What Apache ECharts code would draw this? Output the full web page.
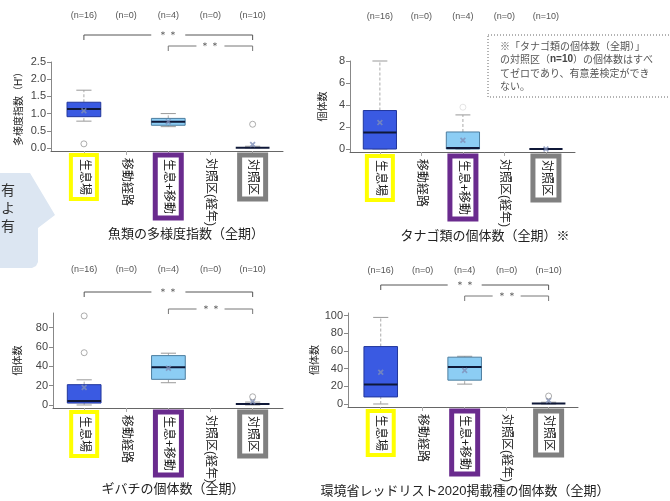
<!DOCTYPE html>
<html>
<head>
<meta charset="utf-8">
<script src="https://cdn.jsdelivr.net/npm/echarts@6/dist/echarts.min.js"></script>
<style>
  html, body { margin: 0; padding: 0; background: #fff; }
  #main { width: 670px; height: 501px; }
</style>
</head>
<body>
<div id="main"></div>
<script>
// categories shared by all four boxplots
const categories = ['生息場', '移動経路', '生息+移動', '対照区(経年)', '対照区'];
const nLabels = ['(n=16)', '(n=0)', '(n=4)', '(n=0)', '(n=10)'];
const catTicks = [1, 2, 3, 4, 5];
const titles = ['魚類の多様度指数（全期）', 'タナゴ類の個体数（全期）※', 'ギバチの個体数（全期）', '環境省レッドリスト2020掲載種の個体数（全期）'];
const yNames = ['多様度指数（H\'）', '個体数', '個体数', '個体数'];

// [category, lower whisker, q1, median, q3, upper whisker]
const diversityBoxes = [[1, 0.78, 0.91, 1.13, 1.33, 1.68], [3, 0.62, 0.66, 0.76, 0.86, 1.0], [5, 0, 0, 0.01, 0.03, 0.05]];
const diversityMeans = [[1, 1.08], [3, 0.76], [5, 0.1]];
const diversityOutliers = [[1, 0.12], [5, 0.69]];
const diversityTicks = [0, 0.5, 1, 1.5, 2, 2.5];

const tanagoBoxes = [[1, 0, 0, 1.5, 3.5, 8], [3, 0, 0, 0.1, 1.55, 3.1], [5, 0, 0, 0, 0, 0]];
const tanagoMeans = [[1, 2.4], [3, 0.8], [5, 0]];
const tanagoOutliers = [[3, 3.8]];
const tanagoTicks = [0, 2, 4, 6, 8];

const gibachiBoxes = [[1, 0, 2, 4, 21, 26], [3, 23, 26.5, 39, 51, 53.5], [5, 0, 0, 1, 1.5, 3]];
const gibachiMeans = [[1, 18], [3, 38], [5, 3.5]];
const gibachiOutliers = [[1, 54], [1, 92], [5, 8.5]];
const gibachiTicks = [0, 20, 40, 60, 80];

const redlistBoxes = [[1, 0, 8, 22, 65, 98], [3, 22.5, 27, 42, 53, 54], [5, 0, 0, 0.5, 1, 2]];
const redlistMeans = [[1, 36], [3, 38], [5, 4]];
const redlistOutliers = [[5, 9]];
const redlistTicks = [0, 20, 40, 60, 80, 100];

// ** brackets: [from category, to category, level]
const sigPairs = [[1, 5, 0], [3, 5, 1]];

const labelFrames = ['yel', 'plain', 'pur', 'plain', 'gry'];
const boxColors = {
  1: { fill: '#3a5ae2', stroke: '#22379c' },
  3: { fill: '#8ccdf4', stroke: '#4d7e9f' },
  5: { fill: 'none', stroke: 'none' }
};
const BOX_W = 0.8;

const panels = [
  { grid: { left: 51, top: 62, width: 232, height: 89 }, x: [0.22, 5.72], y: [-0.088, 2.5], ticks: diversityTicks, digits: 1,
    boxes: diversityBoxes, means: diversityMeans, outliers: diversityOutliers, sig: sigPairs, sigOffsets: [27, 16],
    nMargin: 42, nameGap: 27, titleX: 186, titleY: 228, outlierColor: '#999' },
  { grid: { left: 350, top: 61, width: 225, height: 91 }, x: [0.28, 5.7], y: [-0.27, 8], ticks: tanagoTicks, digits: 0,
    boxes: tanagoBoxes, means: tanagoMeans, outliers: tanagoOutliers, sig: [], sigOffsets: [],
    nMargin: 40, nameGap: 22, titleX: 485, titleY: 230, outlierColor: '#ddd' },
  { grid: { left: 53, top: 313, width: 230, height: 95 }, x: [0.26, 5.72], y: [-3.1, 95], ticks: gibachiTicks, digits: 0,
    boxes: gibachiBoxes, means: gibachiMeans, outliers: gibachiOutliers, sig: sigPairs, sigOffsets: [21, 4],
    nMargin: 39, nameGap: 30, titleX: 173, titleY: 483, outlierColor: '#999' },
  { grid: { left: 348, top: 313, width: 230, height: 94 }, x: [0.22, 5.7], y: [-3.4, 103], ticks: redlistTicks, digits: 0,
    boxes: redlistBoxes, means: redlistMeans, outliers: redlistOutliers, sig: sigPairs, sigOffsets: [28, 17],
    nMargin: 38, nameGap: 25, titleX: 465, titleY: 485, outlierColor: '#999' }
];

function renderBox(params, api) {
  const x = api.value(0);
  const pLo = api.coord([x, api.value(1)]);
  const pQ1 = api.coord([x, api.value(2)]);
  const pMed = api.coord([x, api.value(3)]);
  const pQ3 = api.coord([x, api.value(4)]);
  const pHi = api.coord([x, api.value(5)]);
  const half = api.size([BOX_W, 0])[0] / 2;
  const cx = pMed[0];
  const cap = half * 0.45;
  const col = boxColors[x];
  const whisk = { stroke: '#aaa', lineWidth: 1, lineDash: [3, 2] };
  const capStyle = { stroke: '#999', lineWidth: 1 };
  return {
    type: 'group',
    children: [
      { type: 'line', shape: { x1: cx, y1: pLo[1], x2: cx, y2: pQ1[1] }, style: whisk },
      { type: 'line', shape: { x1: cx, y1: pQ3[1], x2: cx, y2: pHi[1] }, style: whisk },
      { type: 'line', shape: { x1: cx - cap, y1: pLo[1], x2: cx + cap, y2: pLo[1] }, style: capStyle },
      { type: 'line', shape: { x1: cx - cap, y1: pHi[1], x2: cx + cap, y2: pHi[1] }, style: capStyle },
      { type: 'rect', shape: { x: cx - half, y: pQ3[1], width: half * 2, height: pQ1[1] - pQ3[1] },
        style: { fill: col.fill, stroke: col.stroke, lineWidth: 1 } },
      { type: 'line', shape: { x1: cx - half, y1: pMed[1], x2: cx + half, y2: pMed[1] },
        style: { stroke: '#0f1838', lineWidth: 2 } }
    ]
  };
}

function bracketRenderer(offsets) {
  return function (params, api) {
    const x1 = api.coord([api.value(0), 0])[0];
    const x2 = api.coord([api.value(1), 0])[0];
    const lvl = api.value(2);
    const y = params.coordSys.y - offsets[lvl];
    const mid = (x1 + x2) / 2;
    const gap = lvl === 0 ? 17 : 14;
    const stroke = lvl === 0 ? '#555' : '#777';
    return {
      type: 'group',
      children: [
        { type: 'polyline', shape: { points: [[x1, y + 5], [x1, y], [mid - gap, y]] }, style: { stroke: stroke, fill: null, lineWidth: 1 } },
        { type: 'polyline', shape: { points: [[mid + gap, y], [x2, y], [x2, y + 5]] }, style: { stroke: stroke, fill: null, lineWidth: 1 } },
        { type: 'text', style: { text: '＊＊', x: mid, y: y, align: 'center', verticalAlign: 'middle', fontSize: 10, fill: '#555' } }
      ]
    };
  };
}

const frameBase = { fontSize: 12, color: '#222', lineHeight: 13 };
const grids = [], xAxes = [], yAxes = [], series = [], titleList = [];
panels.forEach(function (p, i) {
  grids.push(Object.assign({ outerBoundsMode: 'none' }, p.grid));
  xAxes.push({
    type: 'value', gridIndex: i, min: p.x[0], max: p.x[1], position: 'bottom',
    splitLine: { show: false },
    axisLine: { show: true, onZero: false, lineStyle: { color: '#666' } },
    axisTick: { show: true, customValues: catTicks, length: 4, lineStyle: { color: '#aaa' } },
    axisLabel: {
      customValues: catTicks, rotate: -90, margin: 4, fontSize: 12, color: '#222',
      formatter: function (v) { return '{' + labelFrames[v - 1] + '|' + categories[v - 1] + '}'; },
      rich: {
        yel: Object.assign({ borderColor: '#ffff00', borderWidth: 4, padding: [7, 4, 7, 4] }, frameBase),
        pur: Object.assign({ borderColor: '#6a2b8e', borderWidth: 5, padding: [7, 4, 7, 4] }, frameBase),
        gry: Object.assign({ borderColor: '#808080', borderWidth: 5, padding: [7, 4, 7, 4] }, frameBase),
        plain: Object.assign({ borderColor: 'transparent', borderWidth: 4, padding: [7, 2, 7, 3] }, frameBase)
      }
    }
  });
  xAxes.push({
    type: 'value', gridIndex: i, min: p.x[0], max: p.x[1], position: 'top',
    splitLine: { show: false }, axisLine: { show: false }, axisTick: { show: false },
    axisLabel: {
      customValues: catTicks, margin: p.nMargin, fontSize: 9, color: '#555',
      formatter: function (v) { return nLabels[v - 1]; }
    }
  });
  yAxes.push({
    type: 'value', gridIndex: i, min: p.y[0], max: p.y[1],
    name: yNames[i], nameLocation: 'middle', nameRotate: 90, nameGap: p.nameGap,
    nameTextStyle: { fontSize: 10, color: '#222' },
    splitLine: { show: false },
    axisLine: { show: true, onZero: false, lineStyle: { color: '#888' } },
    axisTick: { show: true, customValues: p.ticks, length: 4, lineStyle: { color: '#888' } },
    axisLabel: {
      customValues: p.ticks, margin: 5, fontSize: 11, color: '#444',
      formatter: function (v) { return v.toFixed(p.digits); }
    }
  });
  const xi = i * 2;
  series.push({
    type: 'custom', xAxisIndex: xi, yAxisIndex: i, renderItem: renderBox,
    encode: { x: 0, y: [1, 5] }, data: p.boxes, silent: true, z: 2
  });
  series.push({
    type: 'scatter', xAxisIndex: xi, yAxisIndex: i, data: p.means, silent: true, z: 4,
    symbol: 'path://M2,0L5,3L8,0L10,2L7,5L10,8L8,10L5,7L2,10L0,8L3,5L0,2Z', symbolSize: 6,
    itemStyle: { color: '#7f8fb8', opacity: 0.8 }
  });
  series.push({
    type: 'scatter', xAxisIndex: xi, yAxisIndex: i, data: p.outliers, silent: true, z: 4,
    symbol: 'circle', symbolSize: 6,
    itemStyle: { color: 'transparent', borderColor: p.outlierColor, borderWidth: 1 }
  });
  if (p.sig.length) {
    series.push({
      type: 'custom', xAxisIndex: xi, yAxisIndex: i, renderItem: bracketRenderer(p.sigOffsets),
      encode: { x: [0, 1] }, data: p.sig, silent: true, clip: false, z: 3
    });
  }
  titleList.push({
    text: titles[i], left: p.titleX, top: p.titleY, textAlign: 'center', padding: 0,
    textStyle: { fontSize: 13, fontWeight: 'normal', color: '#222' }
  });
});

const chart = echarts.init(document.getElementById('main'));
chart.setOption({
  animation: false,
  textStyle: { fontFamily: '"Liberation Sans", "Noto Sans CJK JP", sans-serif' },
  title: titleList,
  grid: grids,
  xAxis: xAxes,
  yAxis: yAxes,
  series: series,
  graphic: [
    { type: 'polygon', shape: { points: [[0, 173], [30, 173], [55, 215], [38, 228], [38, 262], [36, 266], [32, 268], [0, 268]] },
      style: { fill: '#dce6f2' }, silent: true },
    { type: 'text', left: 1, top: 181, style: { text: '有\nよ\n有', fontSize: 14, lineHeight: 18, fill: '#333',
      fontFamily: '"Noto Sans CJK JP", sans-serif' }, silent: true },
    { type: 'rect', shape: { x: 488, y: 35, width: 200, height: 62 },
      style: { fill: '#fff', stroke: '#666', lineWidth: 1, lineDash: [1, 2] }, silent: true },
    { type: 'text', left: 500, top: 39, silent: true,
      style: {
        text: '※「タナゴ類の個体数（全期）」\nの対照区（{b|n=10}）の個体数はすべ\nてゼロであり、有意差検定ができ\nない。',
        fontSize: 10, lineHeight: 13.5, fill: '#555',
        fontFamily: '"Noto Sans CJK JP", sans-serif',
        rich: { b: { fontWeight: 'bold', fontSize: 10, fill: '#444', fontFamily: '"Liberation Sans", sans-serif' } }
      } }
  ]
});
</script>
</body>
</html>
